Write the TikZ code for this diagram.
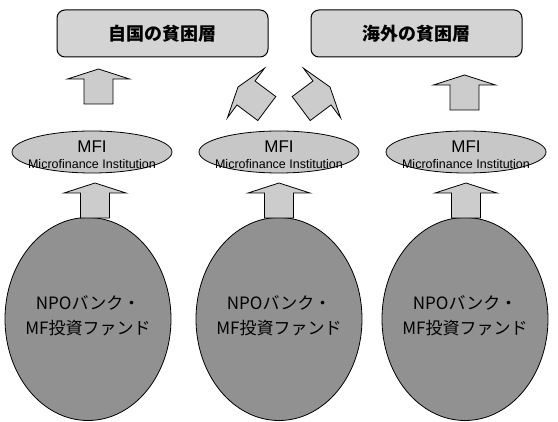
\documentclass[tikz,border=0pt]{standalone}
\usepackage{fontspec}
\setmainfont{Liberation Sans}
\newfontfamily\jp{Noto Sans CJK JP}
\usetikzlibrary{shapes.geometric}
\definecolor{boxfill}{gray}{0.83}
\definecolor{mfifill}{gray}{0.78}
\definecolor{arrfill}{gray}{0.80}
\definecolor{bigfill}{gray}{0.57}
\tikzset{
  topbox/.style={draw=black, line width=1pt, fill=boxfill, rounded corners=8pt,
    minimum width=211pt, minimum height=47pt, inner sep=0pt,
    font=\jp\bfseries\fontsize{18pt}{18pt}\selectfont},
  mfi/.style={ellipse, draw=black, line width=0.8pt, fill=mfifill,
    minimum width=160pt, minimum height=42pt, inner sep=0pt},
  mfibig/.style={font=\fontsize{17pt}{17pt}\selectfont, inner sep=0pt},
  mfismall/.style={font=\fontsize{12.5pt}{13pt}\selectfont, inner sep=0pt},
  big/.style={ellipse, draw=black, line width=0.8pt, fill=bigfill,
    minimum width=166pt, minimum height=203pt, inner sep=0pt},
  bigtext/.style={align=center, inner sep=0pt,
    font=\jp\fontsize{17pt}{25pt}\selectfont},
  blockarr/.style={draw=black, line width=0.8pt, fill=arrfill, line join=miter},
}
% vertical block arrow: #1 centre x, #2 tip y, #3 head base y, #4 bottom y
\newcommand\myup[4]{%
  \draw[blockarr] (#1,#2) -- (#1+31,#3) -- (#1+14.5,#3) -- (#1+14.5,#4)
    -- (#1-14.5,#4) -- (#1-14.5,#3) -- (#1-31,#3) -- cycle;}
\begin{document}
\begin{tikzpicture}[x=1pt,y=-1pt]
\useasboundingbox (0,0) rectangle (558,422);

% top boxes
\node[topbox] (home) at (162.5,33.5) {自国の貧困層};
\node[topbox] (abroad) at (416.5,33.5) {海外の貧困層};

% MFI ellipses
\foreach \n/\x in {1/92,2/279,3/466}{
  \node[mfi] (mfi\n) at (\x,152) {};
  \node[mfibig] (mfit\n) at (\x,146.5) {MFI};
  \node[mfismall] (mfis\n) at (\x,164.5) {Microfinance Institution};
}

% big ellipses
\foreach \n/\x in {1/88,2/279,3/465}{
  \node[big] (npo\n) at (\x,319) {};
  \node[bigtext] (npot\n) at (\x,316) {NPOバンク・\\MF投資ファンド};
}

% upper vertical arrows
\myup{98.5}{69}{79}{104}
\myup{464.5}{75}{85}{110}

% lower vertical arrows
\myup{95}{183}{193}{218}
\myup{279}{183}{193}{218}
\myup{466}{183}{193}{218}

% diagonal arrows from centre MFI
\draw[blockarr] (238,87) -- (264.6,68.2) -- (255,81) -- (275.8,96.6)
  -- (257.8,120.6) -- (237,105) -- (227.4,117.8) -- cycle;
\draw[blockarr] (330,87) -- (303.4,68.2) -- (313,81) -- (292.2,96.6)
  -- (310.2,120.6) -- (331,105) -- (340.6,117.8) -- cycle;
\end{tikzpicture}
\end{document}
